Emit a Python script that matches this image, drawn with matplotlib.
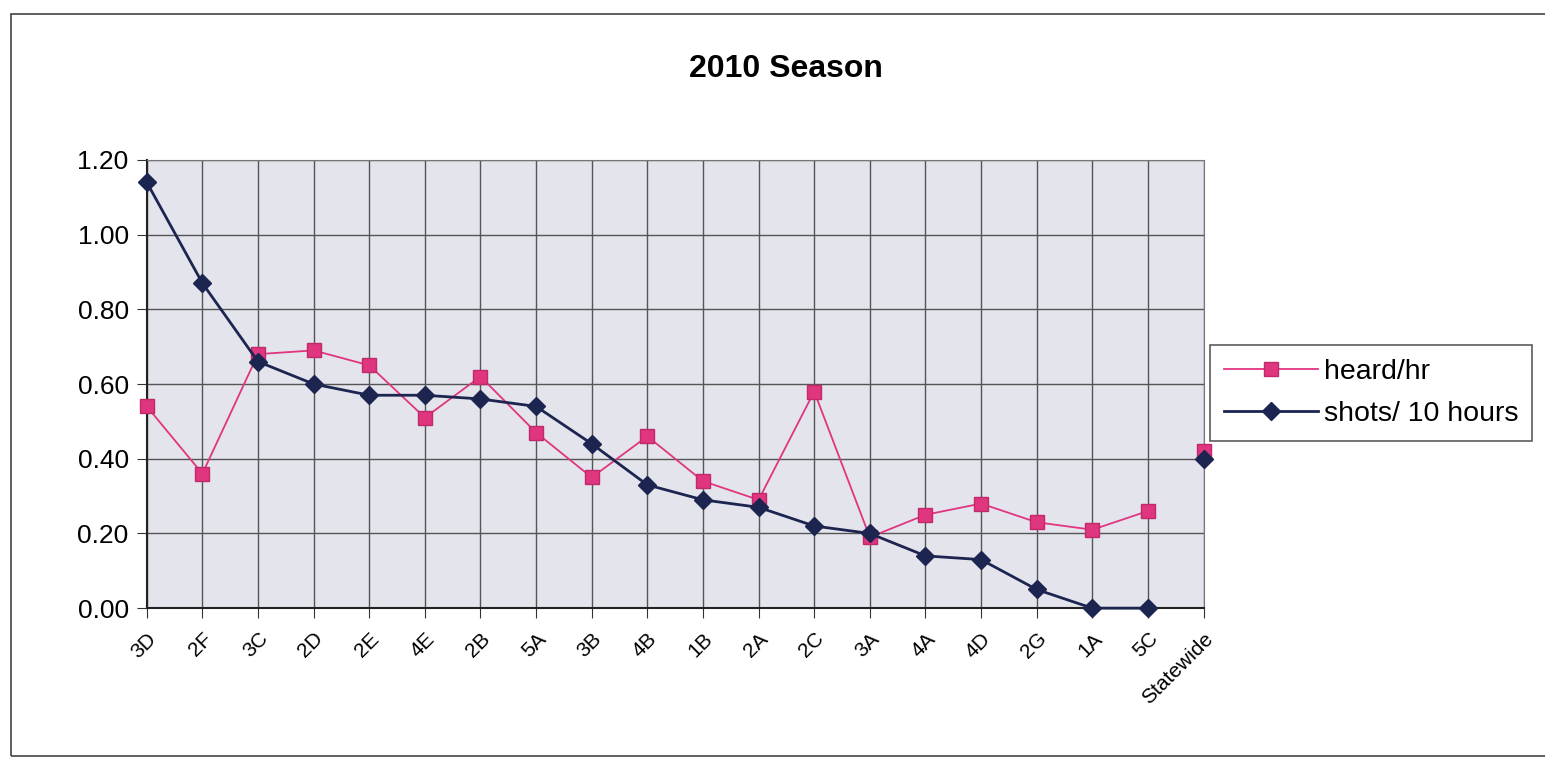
import matplotlib
matplotlib.use("Agg")
import matplotlib.pyplot as plt
from matplotlib.patches import Rectangle

# units, in the order shown on the x axis
units = ['3D', '2F', '3C', '2D', '2E', '4E', '2B', '5A', '3B', '4B',
         '1B', '2A', '2C', '3A', '4A', '4D', '2G', '1A', '5C', 'Statewide']

heard_per_hr = [0.54, 0.36, 0.68, 0.69, 0.65, 0.51, 0.62, 0.47, 0.35, 0.46,
                0.34, 0.29, 0.58, 0.19, 0.25, 0.28, 0.23, 0.21, 0.26, 0.42]

shots_per_10h = [1.14, 0.87, 0.66, 0.60, 0.57, 0.57, 0.56, 0.54, 0.44, 0.33,
                 0.29, 0.27, 0.22, 0.20, 0.14, 0.13, 0.05, 0.00, 0.00, 0.40]

y_ticks = [0.0, 0.2, 0.4, 0.6, 0.8, 1.0, 1.2]

pink = '#e0357f'
navy = '#1c2450'

plt.rcParams['font.family'] = ['Liberation Sans', 'DejaVu Sans']

fig = plt.figure(figsize=(15.45, 7.65), dpi=100)
fig.patch.set_facecolor('white')

# outer chart frame (right edge runs off the scan)
fig.add_artist(Rectangle((0.007, 0.012), 1.1, 0.97, transform=fig.transFigure,
                         fill=False, edgecolor='#444444', linewidth=1.2))

ax = fig.add_axes([0.095, 0.205, 0.684, 0.586])
ax.set_facecolor('#e4e4ec')

x = list(range(len(units)))
heard_style = dict(color=pink, marker='s', markersize=10, markerfacecolor=pink,
                   markeredgecolor='#c02a6a', linewidth=1.3, clip_on=False, zorder=3)
shots_style = dict(color=navy, marker='D', markersize=9, markerfacecolor=navy,
                   markeredgecolor=navy, linewidth=2, clip_on=False, zorder=4)

# units joined by a line, statewide point stands on its own
ax.plot(x[:-1], heard_per_hr[:-1], label='heard/hr', **heard_style)
ax.plot(x[-1:], heard_per_hr[-1:], linestyle='none', **heard_style)
ax.plot(x[:-1], shots_per_10h[:-1], label='shots/ 10 hours', **shots_style)
ax.plot(x[-1:], shots_per_10h[-1:], linestyle='none', **shots_style)

ax.set_xlim(0, len(units) - 1)
ax.set_ylim(0, 1.2)
ax.set_yticks(y_ticks)
ax.set_yticklabels(['%.2f' % v for v in y_ticks], fontsize=19)
ax.set_xticks(x)
ax.set_xticklabels(units, rotation=45, ha='right', rotation_mode='anchor',
                   fontsize=15)
ax.tick_params(axis='x', length=7, color='#333333', pad=8)
ax.tick_params(axis='y', length=7, color='#333333', pad=6)

ax.grid(True, color='#555555', linewidth=1)
ax.set_axisbelow(True)
for side in ['top', 'right']:
    ax.spines[side].set_color('#777777')
for side in ['left', 'bottom']:
    ax.spines[side].set_color('#222222')
    ax.spines[side].set_linewidth(1.5)

fig.text(0.509, 0.91, '2010 Season', ha='center', va='center',
         fontsize=23, fontweight='bold')

leg = fig.legend(loc='center left', bbox_to_anchor=(0.783, 0.486),
                 fontsize=20.5, frameon=True, fancybox=False, handlelength=3.3,
                 borderpad=0.5, labelspacing=0.55, handletextpad=0.2,
                 borderaxespad=0)
leg.get_frame().set_edgecolor('#333333')
leg.get_frame().set_linewidth(1.2)

fig.savefig('out.png', dpi=100, facecolor='white')
